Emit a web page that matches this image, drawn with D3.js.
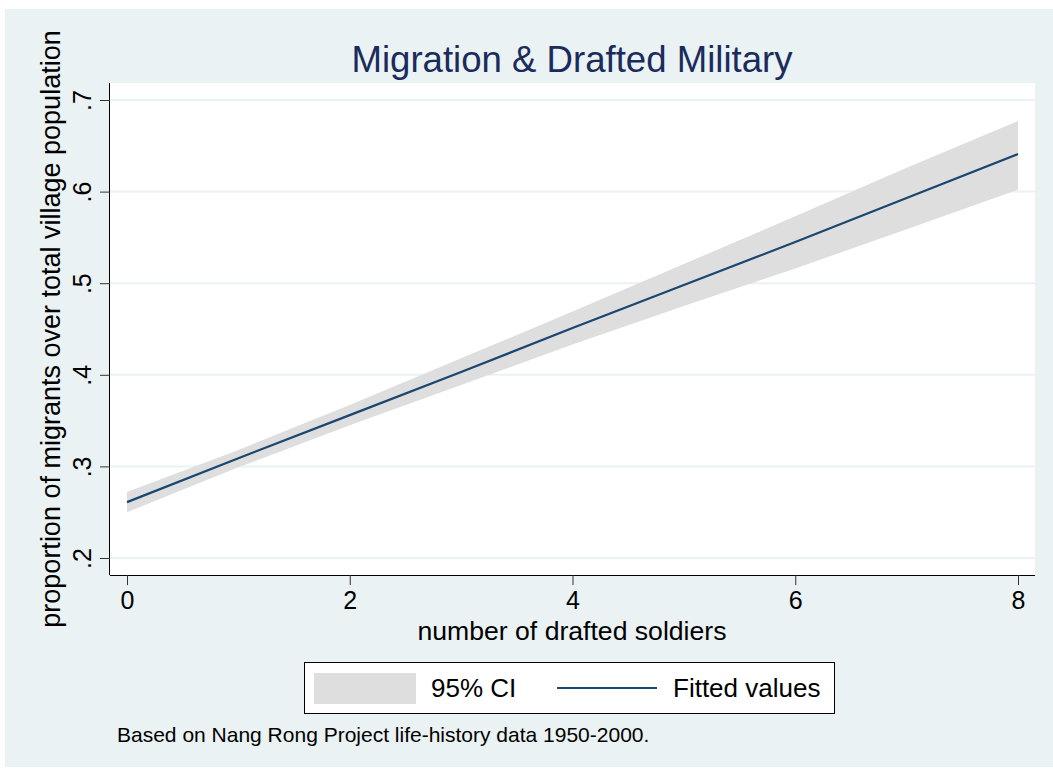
<!DOCTYPE html>
<html lang="en">
<head>
<meta charset="UTF-8">
<title>Migration & Drafted Military</title>
<script src="https://cdn.jsdelivr.net/npm/d3@7"></script>
<style>
  body { margin: 0; background: #fff; }
  text { font-family: Arial, "Liberation Sans", sans-serif; }
</style>
</head>
<body>
<svg width="1053" height="769"></svg>
<script>
// values
var soldiers = [0, 1, 2, 3, 4, 5, 6, 7, 8];
var fitted   = [0.261, 0.309, 0.356, 0.403, 0.451, 0.498, 0.545, 0.593, 0.641];
var ciLower  = [0.250, 0.299, 0.345, 0.389, 0.433, 0.475, 0.516, 0.559, 0.602];
var ciUpper  = [0.272, 0.318, 0.367, 0.418, 0.469, 0.521, 0.573, 0.626, 0.677];
var xTicks = [0, 2, 4, 6, 8];
var yTicks = [0.2, 0.3, 0.4, 0.5, 0.6, 0.7];
var yTickLabels = ['.2', '.3', '.4', '.5', '.6', '.7'];

var svg = d3.select('svg');
var navy = '#1a476f';
var bandColor = '#dedede';
var bg = '#eaf2f3';
var font = 'Arial, "Liberation Sans", sans-serif';

// graph region background
svg.append('rect').attr('x', 5).attr('y', 9).attr('width', 1048).attr('height', 758).attr('fill', bg);

// plot area
var pLeft = 110, pRight = 1035, pTop = 83, pBottom = 575;
svg.append('rect').attr('x', pLeft).attr('y', pTop).attr('width', pRight - pLeft).attr('height', pBottom - pTop).attr('fill', '#fff');

var x = d3.scaleLinear().domain([0, 8]).range([127, 1018]);
var y = d3.scaleLinear().domain([0.2, 0.7]).range([558, 100]);

// gridlines
svg.append('g').selectAll('line').data(yTicks).enter().append('line')
    .attr('x1', pLeft).attr('x2', pRight)
    .attr('y1', function (d) { return y(d); }).attr('y2', function (d) { return y(d); })
    .attr('stroke', bg).attr('stroke-width', 2);

// CI band
var rows = soldiers.map(function (s, i) { return { s: s, lo: ciLower[i], hi: ciUpper[i], f: fitted[i] }; });
svg.append('path').datum(rows)
    .attr('d', d3.area().x(function (d) { return x(d.s); }).y0(function (d) { return y(d.lo); }).y1(function (d) { return y(d.hi); }))
    .attr('fill', bandColor);

// fitted line
svg.append('path').datum(rows)
    .attr('d', d3.line().x(function (d) { return x(d.s); }).y(function (d) { return y(d.f); }))
    .attr('fill', 'none').attr('stroke', navy).attr('stroke-width', 2.2);

// axes
var axisX = d3.axisBottom(x).tickValues(xTicks).tickSize(10).tickPadding(6).tickFormat(d3.format('d'));
var gx = svg.append('g').attr('transform', 'translate(0,' + pBottom + ')').call(axisX);
gx.select('.domain').attr('d', 'M' + pLeft + ',0.5H' + pRight).attr('stroke', '#000');
gx.selectAll('.tick line').attr('stroke', '#333');
gx.selectAll('.tick text').attr('font-size', 25).attr('fill', '#000').attr('font-family', font);

var axisY = d3.axisLeft(y).tickValues(yTicks).tickSize(10)
    .tickFormat(function (d, i) { return yTickLabels[i]; });
var gy = svg.append('g').attr('transform', 'translate(' + pLeft + ',0)').call(axisY);
gy.select('.domain').attr('d', 'M-0.5,' + pTop + 'V' + pBottom).attr('stroke', '#000');
gy.selectAll('.tick line').attr('stroke', '#333');
gy.selectAll('.tick text')
    .attr('x', null).attr('dy', null)
    .attr('transform', 'translate(-19,0) rotate(-90)')
    .attr('text-anchor', 'middle')
    .attr('font-size', 25).attr('fill', '#000').attr('font-family', font);

// titles
svg.append('text').attr('x', 572).attr('y', 72).attr('text-anchor', 'middle')
    .attr('font-size', 36.6).attr('fill', '#1a2b5c').text('Migration & Drafted Military');
svg.append('text').attr('x', 572).attr('y', 640).attr('text-anchor', 'middle')
    .attr('font-size', 26.6).attr('fill', '#000').text('number of drafted soldiers');
svg.append('text').attr('transform', 'translate(60,' + (pTop + pBottom) / 2 + ') rotate(-90)').attr('text-anchor', 'middle')
    .attr('font-size', 27).attr('fill', '#000').text('proportion of migrants over total village population');

// legend
var lg = svg.append('g');
lg.append('rect').attr('x', 304.5).attr('y', 662.5).attr('width', 530).attr('height', 51)
    .attr('fill', '#fff').attr('stroke', '#000').attr('stroke-width', 1);
lg.append('rect').attr('x', 314).attr('y', 673).attr('width', 102).attr('height', 31).attr('fill', bandColor);
lg.append('text').attr('x', 431).attr('y', 697).attr('font-size', 26).attr('fill', '#000').text('95% CI');
lg.append('line').attr('x1', 557).attr('x2', 657).attr('y1', 688).attr('y2', 688).attr('stroke', navy).attr('stroke-width', 2);
lg.append('text').attr('x', 673).attr('y', 697).attr('font-size', 26).attr('fill', '#000').text('Fitted values');

// note
svg.append('text').attr('x', 117).attr('y', 742).attr('font-size', 21).attr('fill', '#000')
    .text('Based on Nang Rong Project life-history data 1950-2000.');
</script>
</body>
</html>
